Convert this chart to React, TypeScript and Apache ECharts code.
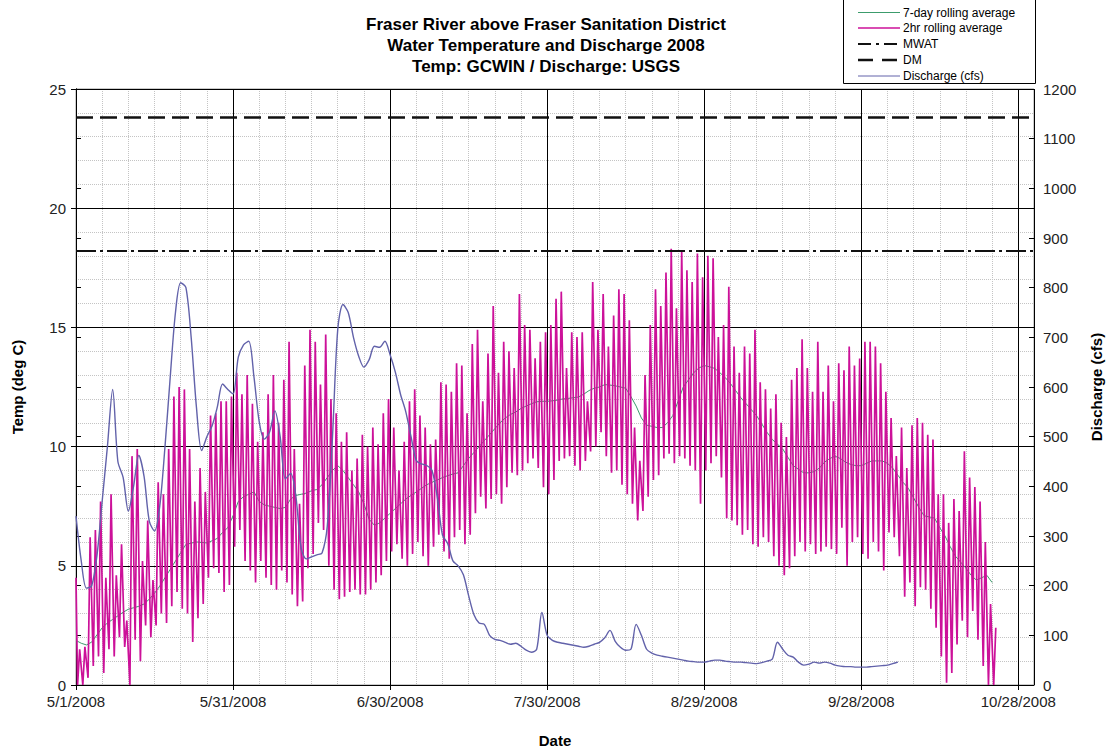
import React, { useEffect, useRef } from "react";
import * as echarts from "echarts";

// ---- data (day index 0 = 5/1/2008) ----
const titleLines = [
  "Fraser River above Fraser Sanitation District",
  "Water Temperature and Discharge 2008",
  "Temp: GCWIN / Discharge: USGS",
];
const seriesNames = ["7-day rolling average", "2hr rolling average", "MWAT", "DM", "Discharge (cfs)"];

const xMaxDays = 183; // 10/31/2008
const tempMin = 0, tempMax = 25, tempStep = 5;
const cfsMin = 0, cfsMax = 1200, cfsStep = 100;
const MWAT = 18.2;
const DM = 23.8;

const tempStart = 4.5;
const tempDailyMin = [
  0.0, 0.0, 0.3, 0.8, 1.2, 0.5, 1.5, 1.2, 2.0, 1.6,
  0.0, 1.9, 1.0, 2.5, 2.0, 2.5, 3.0, 2.6, 3.3, 3.9,
  3.2, 3.0, 1.8, 2.8, 3.4, 4.5, 4.9, 4.7, 3.9, 4.2,
  5.8, 6.5, 5.2, 4.8, 4.3, 5.2, 4.5, 4.2, 4.0, 4.8,
  4.3, 3.8, 3.3, 3.5, 4.9, 5.5, 6.8, 6.5, 5.0, 4.0,
  3.6, 3.7, 3.9, 4.0, 3.8, 3.8, 4.0, 4.3, 4.6, 5.2,
  5.6, 5.9, 5.3, 5.0, 5.5, 6.0, 5.4, 5.0, 5.8, 6.3,
  5.6, 5.3, 6.2, 6.5, 5.9, 6.3, 7.2, 7.9, 7.4, 7.8,
  8.0, 7.6, 8.3, 8.9, 8.8, 9.0, 9.3, 9.5, 9.1, 8.3,
  8.0, 8.6, 9.4, 9.5, 9.6, 9.2, 9.0, 9.4, 9.8, 10.0,
  10.6, 9.6, 8.9, 9.0, 8.4, 8.0, 7.6, 6.9, 7.3, 7.9,
  8.6, 8.8, 9.5, 9.7, 9.3, 9.6, 9.5, 9.2, 9.0, 7.6,
  9.0, 9.3, 9.6, 8.7, 7.0, 6.9, 6.7, 6.3, 6.5, 5.9,
  5.8, 6.2, 6.0, 5.4, 5.0, 4.6, 4.9, 5.4, 6.0, 5.6,
  5.9, 5.5, 5.6, 5.8, 5.7, 5.5, 6.6, 5.0, 6.0, 6.2,
  5.5, 5.3, 6.0, 5.6, 4.8, 6.4, 6.2, 5.4, 3.7, 4.3,
  3.3, 4.1, 4.0, 3.2, 2.4, 1.2, 0.1, 0.5, 1.7, 2.7,
  2.0, 3.1, 1.9, 0.8, 0.0, 0.0,
];
const tempDailyMax = [
  1.5, 1.6, 6.2, 6.5, 7.7, 4.5, 8.0, 4.6, 5.9, 2.7,
  9.6, 9.9, 5.2, 6.9, 4.4, 8.5, 8.0, 9.9, 12.1, 12.5,
  12.4, 9.9, 7.7, 9.1, 8.1, 11.3, 11.4, 11.9, 11.9, 12.1,
  13.1, 12.2, 13.0, 11.8, 10.2, 10.6, 12.2, 13.0, 11.0, 12.8,
  14.4, 9.9, 7.6, 13.4, 14.9, 14.4, 12.6, 14.7, 12.0, 11.4,
  10.2, 10.6, 9.0, 9.5, 10.5, 10.0, 10.8, 10.1, 11.4, 12.0,
  10.8, 9.0, 10.2, 11.9, 12.4, 11.3, 10.8, 10.1, 10.3, 12.7,
  12.6, 12.3, 13.5, 13.4, 11.4, 14.3, 14.9, 11.9, 13.9, 15.9,
  13.1, 14.4, 14.0, 13.3, 16.4, 15.1, 14.9, 13.7, 14.4, 14.8,
  15.1, 16.2, 16.5, 13.3, 14.8, 14.6, 14.8, 11.9, 16.9, 14.9,
  16.4, 14.2, 15.5, 16.6, 16.4, 15.3, 10.8, 9.4, 13.0, 15.1,
  16.6, 15.9, 17.3, 18.3, 15.8, 18.2, 17.4, 16.9, 18.1, 17.1,
  18.0, 17.9, 14.6, 15.1, 16.7, 14.2, 13.1, 14.2, 13.9, 14.9,
  12.7, 12.4, 11.6, 12.2, 11.0, 10.4, 12.8, 13.3, 14.5, 13.3,
  12.3, 14.4, 12.3, 13.4, 11.9, 13.5, 13.2, 14.2, 13.4, 13.7,
  14.4, 14.4, 14.2, 13.5, 12.3, 11.2, 9.6, 10.8, 9.1, 10.9,
  11.2, 11.0, 10.5, 10.3, 8.0, 8.0, 6.8, 7.8, 7.3, 9.8,
  8.7, 8.3, 7.7, 6.0, 3.4, 2.4,
];
const rolling7 = [
  1.87, 1.75, 1.68, 1.8, 2.1, 2.4, 2.6, 2.75, 2.9, 3.05,
  3.18, 3.24, 3.3, 3.4, 3.6, 3.85, 4.15, 4.5, 4.85, 5.2,
  5.55, 5.9, 5.95, 6.0, 5.98, 5.96, 6.05, 6.15, 6.4, 6.6,
  7.1, 7.7, 7.9, 8.0, 8.1, 7.7, 7.55, 7.5, 7.45, 7.4,
  7.45, 7.8, 7.95, 8.0, 8.05, 8.15, 8.2, 8.4, 8.7, 9.0,
  9.2, 9.0, 8.7, 8.4, 8.1, 7.6, 6.95, 6.7, 6.8, 7.0,
  7.2, 7.4, 7.6, 7.8, 7.95, 8.1, 8.25, 8.4, 8.5, 8.6,
  8.7, 8.78, 8.85, 8.9, 9.2, 9.5, 9.75, 10.0, 10.25, 10.5,
  10.75, 11.0, 11.2, 11.35, 11.45, 11.6, 11.7, 11.8, 11.88, 11.9,
  11.9, 11.92, 11.95, 12.0, 12.02, 12.05, 12.08, 12.2, 12.35, 12.45,
  12.5, 12.6, 12.58, 12.55, 12.5, 12.45, 12.1, 11.7, 11.2, 10.9,
  10.85, 10.8, 10.8, 11.0, 11.3, 11.9, 12.5, 12.8, 13.1, 13.3,
  13.4, 13.35, 13.28, 13.1, 12.9, 12.65, 12.35, 12.05, 11.8, 11.55,
  11.3, 10.95, 10.6, 10.3, 10.1, 9.9, 9.55, 9.2, 9.05, 8.9,
  8.9, 8.95, 9.1, 9.35, 9.5, 9.6, 9.5, 9.35, 9.25, 9.2,
  9.2, 9.3, 9.4, 9.4, 9.4, 9.3, 9.1, 8.8, 8.5, 8.25,
  7.85, 7.45, 7.1, 7.05, 7.0, 6.6, 6.25, 5.8, 5.4, 5.15,
  4.9, 4.6, 4.4, 4.5, 4.6, 4.3,
];
const dischargeCfs = [
  340, 250, 195, 200, 260, 370, 480, 595, 450, 418,
  350, 400, 462, 420, 330, 310, 360, 480, 620, 750,
  810, 800, 700, 560, 472, 500, 522, 560, 606, 595,
  586, 660, 685, 692, 620, 530, 495, 510, 552, 500,
  415, 426, 380, 276, 254, 258, 262, 266, 320, 500,
  716, 766, 750, 700, 662, 640, 655, 682, 680, 692,
  665, 630, 585, 550, 500, 452, 445, 442, 432, 380,
  302, 285, 250, 240, 222, 180, 142, 125, 122, 100,
  92, 90, 86, 82, 84, 78, 70, 66, 72, 146,
  100, 90, 86, 84, 82, 80, 78, 76, 78, 82,
  86, 95, 110, 88, 76, 70, 72, 122, 100, 72,
  64, 60, 58, 56, 54, 52, 50, 48, 47, 46,
  46, 48, 50, 50, 48, 47, 46, 46, 45, 44,
  43, 45, 48, 52, 86, 72, 60, 56, 46, 40,
  42, 46, 44, 46, 44, 40, 38, 37, 37, 36,
  36, 36, 37, 38, 39, 40, 43, 46,
];

const FONT = "'Liberation Sans', Arial, sans-serif";
const C_GREEN = "#3C9C6C";
const C_MAGENTA = "#CC1199";
const C_BLUE = "#6262AA";

function dayLabel(v: number): string {
  const dt = new Date(2008, 4, 1 + Math.round(v));
  return `${dt.getMonth() + 1}/${dt.getDate()}/${dt.getFullYear()}`;
}

export default function App() {
  const ref = useRef<HTMLDivElement>(null);
  useEffect(() => {
    if (!ref.current) return;
    const chart = echarts.init(ref.current, undefined, { renderer: "svg" });

    const tempPoints: number[][] = [[0, tempStart]];
    tempDailyMax.forEach((mx, d) => {
      tempPoints.push([d + 0.3, tempDailyMin[d]]);
      tempPoints.push([d + 0.7, mx]);
    });

    // custom legend (graphic) so that dash patterns show
    const legendStyles = [
      { stroke: C_GREEN, lineWidth: 1 },
      { stroke: C_MAGENTA, lineWidth: 1.5 },
      { stroke: "#111", lineWidth: 2, lineDash: [13, 5, 3, 5] },
      { stroke: "#111", lineWidth: 2.5, lineDash: [15, 9] },
      { stroke: C_BLUE, lineWidth: 1 },
    ];
    const legendRowsY = [12.5, 28, 44, 60, 76];
    const legendGraphics: any[] = [
      {
        type: "rect",
        z: 10,
        shape: { x: 843.5, y: -0.5, width: 192, height: 84 },
        style: { fill: "#fff", stroke: "#000", lineWidth: 1 },
      },
    ];
    seriesNames.forEach((nm, i) => {
      legendGraphics.push({
        type: "line",
        z: 11,
        shape: { x1: 858, y1: legendRowsY[i], x2: 900, y2: legendRowsY[i] },
        style: legendStyles[i],
      });
      legendGraphics.push({
        type: "text",
        z: 11,
        x: 903,
        y: legendRowsY[i],
        style: {
          text: nm,
          fill: "#000",
          font: `12px ${FONT}`,
          textVerticalAlign: "middle",
          verticalAlign: "middle",
        },
      });
    });

    const option: any = {
      animation: false,
      backgroundColor: "#fff",
      textStyle: { fontFamily: FONT },
      title: {
        text: titleLines.join("\n"),
        left: 541,
        top: 9,
        textAlign: "center",
        textStyle: { fontSize: 17, fontWeight: "bold", color: "#000", lineHeight: 21, fontFamily: FONT },
      },
      graphic: legendGraphics,
      grid: { left: 76, right: 77, top: 89, bottom: 65, show: true, borderColor: "#999", borderWidth: 1 },
      xAxis: [
        {
          type: "value",
          min: 0,
          max: xMaxDays,
          interval: 30,
          position: "bottom",
          z: 2,
          name: "Date",
          nameLocation: "middle",
          nameGap: 48,
          nameTextStyle: { fontSize: 15, fontWeight: "bold", color: "#000", fontFamily: FONT },
          axisLine: { show: true, lineStyle: { color: "#000", width: 1 } },
          axisTick: { show: true, length: 5, lineStyle: { color: "#000" } },
          axisLabel: {
            fontSize: 15,
            color: "#222",
            margin: 9,
            showMaxLabel: false,
            formatter: (v: number) => (v % 30 === 0 ? dayLabel(v) : ""),
          },
          splitLine: { show: true, lineStyle: { color: "#000", width: 1 } },
        },
        {
          type: "value",
          min: 0,
          max: xMaxDays,
          interval: 5,
          position: "top",
          z: 0,
          axisLine: { show: false },
          axisTick: { show: false },
          axisLabel: { show: false },
          splitLine: { show: true, lineStyle: { color: "#c4c4c4", width: 1, type: "dotted" } },
        },
      ],
      yAxis: [
        {
          type: "value",
          min: tempMin,
          max: tempMax,
          interval: tempStep,
          position: "left",
          z: 2,
          name: "Temp (deg C)",
          nameLocation: "middle",
          nameGap: 51,
          nameTextStyle: { fontSize: 15, fontWeight: "bold", color: "#000", fontFamily: FONT },
          axisLine: { show: true, lineStyle: { color: "#000", width: 1 } },
          axisTick: { show: true, length: 5, lineStyle: { color: "#000" } },
          axisLabel: { fontSize: 15, color: "#222", margin: 10 },
          splitLine: { show: true, lineStyle: { color: "#000", width: 1 } },
          minorTick: { show: false, splitNumber: 5 },
          minorSplitLine: { show: true, lineStyle: { color: "#c4c4c4", width: 1, type: "dotted" } },
        },
        {
          type: "value",
          min: cfsMin,
          max: cfsMax,
          interval: cfsStep,
          position: "right",
          z: 2,
          name: "Discharge (cfs)",
          nameLocation: "middle",
          nameGap: 55,
          nameRotate: 90,
          nameTextStyle: { fontSize: 15, fontWeight: "bold", color: "#000", fontFamily: FONT },
          axisLine: { show: true, lineStyle: { color: "#000", width: 1 } },
          axisTick: { show: true, length: 5, lineStyle: { color: "#000" } },
          axisLabel: { fontSize: 15, color: "#222", margin: 9, formatter: (v: number) => String(v) },
          splitLine: { show: false },
        },
        {
          type: "value",
          min: cfsMin,
          max: cfsMax,
          interval: cfsStep,
          position: "right",
          z: 2,
          axisLine: { show: false },
          axisTick: { show: true, inside: true, length: 5, lineStyle: { color: "#000" } },
          axisLabel: { show: false },
          splitLine: { show: false },
        },
      ],
      series: [
        {
          name: seriesNames[0],
          type: "line",
          xAxisIndex: 0,
          yAxisIndex: 0,
          symbol: "none",
          z: 3,
          data: rolling7.map((v, i) => [i, v]),
          itemStyle: { color: C_GREEN },
          lineStyle: { color: C_GREEN, width: 1 },
        },
        {
          name: seriesNames[1],
          type: "line",
          xAxisIndex: 0,
          yAxisIndex: 0,
          symbol: "none",
          z: 4,
          data: tempPoints,
          itemStyle: { color: C_MAGENTA },
          lineStyle: { color: C_MAGENTA, width: 1.7 },
        },
        {
          name: seriesNames[2],
          type: "line",
          xAxisIndex: 0,
          yAxisIndex: 0,
          symbol: "none",
          z: 5,
          data: [[0, MWAT], [xMaxDays, MWAT]],
          itemStyle: { color: "#000" },
          lineStyle: { color: "#111", width: 2, type: [20, 4, 3, 4] },
        },
        {
          name: seriesNames[3],
          type: "line",
          xAxisIndex: 0,
          yAxisIndex: 0,
          symbol: "none",
          z: 5,
          data: [[0, DM], [xMaxDays, DM]],
          itemStyle: { color: "#000" },
          lineStyle: { color: "#111", width: 2.5, type: [17, 7] },
        },
        {
          name: seriesNames[4],
          type: "line",
          xAxisIndex: 0,
          yAxisIndex: 1,
          symbol: "none",
          smooth: 0.3,
          z: 6,
          data: dischargeCfs.map((v, i) => [i, v]),
          itemStyle: { color: C_BLUE },
          lineStyle: { color: C_BLUE, width: 1.4 },
        },
      ],
    };
    chart.setOption(option);
    return () => chart.dispose();
  }, []);

  return (
    <div
      ref={ref}
      style={{ position: "absolute", left: 0, top: 0, width: 1112, height: 753, background: "#fff" }}
    />
  );
}
